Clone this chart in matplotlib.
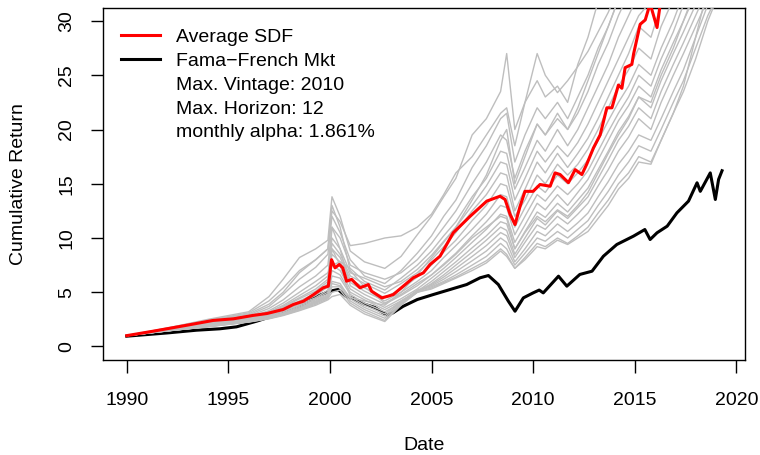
import matplotlib
matplotlib.use("Agg")
import matplotlib.pyplot as plt
from matplotlib.lines import Line2D

plt.rcParams['font.family'] = ['Liberation Sans', 'DejaVu Sans']

# ---------------- data ----------------
red_t = [1990.0, 1991.3, 1992.9, 1994.25, 1995.25, 1996.2, 1996.9, 1997.7, 1998.2, 1998.7,
         1999.2, 1999.67, 1999.92, 2000.08, 2000.25, 2000.46, 2000.63, 2000.82, 2001.07, 2001.48,
         2001.89, 2002.05, 2002.55, 2002.87, 2003.12, 2003.61, 2004.1, 2004.6, 2004.93, 2005.42,
         2006.07, 2006.9, 2007.72, 2008.37, 2008.62, 2008.87, 2009.11, 2009.36, 2009.6, 2010.0,
         2010.34, 2010.84, 2011.08, 2011.33, 2011.74, 2012.07, 2012.4, 2012.64, 2012.97, 2013.3,
         2013.63, 2013.88, 2014.2, 2014.37, 2014.53, 2014.86, 2014.95, 2015.27, 2015.52, 2015.76,
         2016.1, 2016.26, 2017.0, 2018.0, 2019.25]
red_v = [1.0, 1.41, 1.94, 2.4, 2.55, 2.86, 3.04, 3.41, 3.87, 4.18,
         4.79, 5.41, 5.56, 8.0, 7.25, 7.56, 7.25, 6.02, 6.18, 5.41,
         5.71, 5.1, 4.48, 4.64, 4.79, 5.56, 6.33, 6.79, 7.56, 8.32,
         10.48, 12.0, 13.4, 13.85, 13.55, 12.17, 11.24, 12.93, 14.3, 14.3,
         14.93, 14.77, 16.0, 15.85, 15.1, 16.3, 15.85, 16.8, 18.3, 19.5,
         22.0, 22.0, 24.1, 23.8, 25.7, 26.0, 27.0, 29.7, 30.1, 31.6,
         29.4, 31.6, 38.0, 45.0, 52.0]

mkt_t = [1990.0, 1991.0, 1992.0, 1993.43, 1994.58, 1995.4, 1996.39, 1997.0, 1997.7, 1998.5,
         1999.18, 2000.0, 2000.4, 2000.8, 2001.2, 2001.7, 2002.2, 2002.8, 2003.1, 2003.6,
         2004.3, 2005.09, 2005.91, 2006.73, 2007.39, 2007.8, 2008.29, 2008.78, 2009.11, 2009.52,
         2010.0, 2010.3, 2010.5, 2011.25, 2011.66, 2012.3, 2012.9, 2013.46, 2014.12, 2014.94,
         2015.5, 2015.76, 2016.1, 2016.6, 2017.08, 2017.65, 2018.07, 2018.23, 2018.72, 2018.97,
         2019.13, 2019.3]
mkt_v = [0.95, 1.1, 1.25, 1.5, 1.63, 1.81, 2.33, 2.7, 3.1, 3.6,
         4.48, 5.1, 5.25, 4.6, 4.4, 3.9, 3.6, 2.9, 3.1, 3.7,
         4.33, 4.79, 5.25, 5.71, 6.33, 6.54, 5.71, 4.18, 3.25, 4.48,
         4.94, 5.2, 4.94, 6.48, 5.56, 6.64, 6.94, 8.32, 9.4, 10.17,
         10.78, 9.86, 10.48, 11.09, 12.32, 13.4, 15.09, 14.3, 16.0, 13.55,
         15.4, 16.2]

sdf_t = [1990, 1992, 1994, 1996, 1997, 1997.7, 1998.5, 1999.3, 1999.9, 2000.1,
         2000.5, 2001, 2001.7, 2002.7, 2003.5, 2004.3, 2005.0, 2005.6, 2006.2, 2007.0,
         2007.7, 2008.4, 2008.7, 2009.1, 2009.6, 2010.2, 2010.6, 2011.2, 2011.7, 2012.2,
         2012.7, 2013.2, 2013.7, 2014.2, 2014.7, 2015.2, 2015.8, 2016.3, 2016.9, 2017.4,
         2018.0, 2018.6, 2019.25]
sdf_01 = [1, 1.70, 2.50, 3.20, 4.6, 6.2, 8.2, 9.0, 9.8, 13.8, 12.0, 8.8, 7.8, 7.2, 8.3, 10.3, 12.0, 13.8, 15.5, 19.5,
          21.0, 23.5, 27.0, 20.0, 22.5, 24.5, 23.0, 24.0, 22.5, 26.0, 28.5, 31.8, 34, 36, 38, 40, 42, 44, 46, 48, 50, 52, 55]
sdf_02 = [1, 1.65, 2.40, 3.10, 4.2, 5.4, 7.0, 8.0, 9.0, 12.5, 11.5, 9.3, 9.5, 10.0, 10.2, 11.0, 12.2, 14.0, 16.0, 17.5,
          19.5, 21.5, 22.0, 18.5, 22.5, 27.0, 25.0, 23.4, 24.5, 25.8, 27.2, 29.0, 30.8, 33, 35, 37, 39, 41, 43, 45, 47, 49, 52]
sdf_03 = [1, 1.60, 2.30, 2.90, 3.7, 4.8, 6.2, 7.3, 8.5, 12.0, 10.5, 8.0, 6.5, 5.8, 7.0, 8.6, 10.2, 12.0, 13.5, 16.5,
          18.5, 21.0, 21.5, 17.0, 19.5, 22.0, 21.0, 22.5, 21.0, 23.0, 25.0, 27.5, 29.5, 32.0, 34, 36, 38, 40, 42, 44, 46, 48, 50]
sdf_04 = [1, 1.62, 2.20, 2.80, 3.5, 4.3, 5.5, 6.5, 7.5, 11.0, 10.0, 7.5, 6.8, 6.2, 6.8, 8.0, 9.5, 11.0, 12.5, 15.0,
          17.0, 19.5, 19.0, 15.5, 18.0, 20.5, 19.5, 21.5, 20.0, 21.5, 23.5, 26.0, 28.0, 30.5, 32.5, 34.5, 36, 38, 40, 42, 44, 46, 48]
sdf_05 = [1, 1.58, 2.15, 2.70, 3.3, 4.0, 5.0, 6.0, 6.8, 7.5, 7.8, 7.2, 6.0, 5.2, 6.3, 7.5, 8.8, 10.2, 11.5, 13.8,
          15.5, 18.0, 17.8, 14.5, 16.5, 19.0, 18.0, 20.0, 18.5, 20.0, 22.0, 24.0, 26.0, 28.5, 30.5, 32.5, 34, 36, 38, 40, 42, 44, 46]
sdf_06 = [1, 1.55, 2.10, 2.65, 3.2, 3.8, 4.7, 5.6, 6.5, 10.0, 9.0, 6.8, 6.3, 5.5, 6.0, 7.1, 8.4, 9.7, 11.0, 13.0,
          14.8, 17.0, 16.8, 13.5, 15.5, 18.0, 17.0, 18.5, 17.5, 18.8, 20.5, 22.5, 24.5, 26.5, 28.5, 30.5, 31.8, 34, 36, 38, 40, 42, 44]
sdf_07 = [1, 1.55, 2.05, 2.60, 3.1, 3.7, 4.5, 5.3, 6.2, 9.5, 8.5, 6.5, 5.8, 4.9, 5.8, 6.8, 8.0, 9.2, 10.5, 12.5,
          14.0, 16.0, 15.8, 12.5, 14.5, 17.0, 16.0, 17.8, 16.5, 17.8, 19.2, 21.0, 23.0, 25.0, 27.0, 29.5, 28.5, 31.5, 34, 36, 38, 40, 42]
sdf_08 = [1, 1.52, 2.00, 2.55, 3.0, 3.6, 4.4, 5.1, 6.0, 9.0, 8.2, 6.2, 5.4, 4.5, 5.3, 6.4, 7.5, 8.7, 9.8, 11.6,
          13.0, 15.0, 14.8, 12.0, 13.5, 15.8, 15.0, 16.8, 15.8, 16.8, 18.2, 20.0, 22.0, 24.0, 25.5, 27.5, 26.5, 29.5, 32.0, 34, 36, 38, 40]
sdf_09 = [1, 1.50, 1.98, 2.50, 2.95, 3.5, 4.2, 4.9, 5.8, 8.5, 7.8, 5.9, 5.1, 4.2, 5.0, 6.0, 7.0, 8.2, 9.3, 10.8,
          12.2, 14.0, 13.8, 11.0, 12.8, 14.8, 14.2, 15.8, 15.0, 16.0, 17.2, 19.0, 20.8, 22.5, 24.0, 26.0, 25.0, 27.5, 30.0, 32.5, 35, 37, 39]
sdf_10 = [1, 1.50, 1.95, 2.45, 2.9, 3.4, 4.0, 4.7, 5.5, 11.0, 9.0, 5.6, 4.8, 3.9, 4.7, 5.6, 6.6, 7.6, 8.6, 10.2,
          11.5, 13.0, 12.8, 10.3, 12.0, 14.0, 13.4, 14.8, 14.0, 15.0, 16.2, 18.0, 19.8, 21.5, 23.0, 25.0, 24.0, 26.5, 29.0, 31.5, 34, 36, 38]
sdf_11 = [1, 1.48, 1.92, 2.40, 2.85, 3.3, 3.9, 4.5, 5.2, 7.5, 7.0, 5.3, 4.5, 3.6, 4.4, 5.3, 6.3, 7.2, 8.2, 9.6,
          10.8, 12.2, 12.0, 9.6, 11.2, 13.2, 12.6, 14.0, 13.0, 14.2, 15.4, 17.2, 19.0, 20.8, 22.2, 24.0, 23.0, 25.5, 28.0, 30.0, 32.5, 35, 37]
sdf_12 = [1, 1.47, 1.90, 2.38, 2.8, 3.2, 3.8, 4.4, 5.0, 7.0, 6.6, 5.0, 4.3, 3.4, 4.2, 5.1, 6.0, 6.9, 7.8, 9.1,
          10.2, 11.5, 11.3, 9.0, 10.6, 12.4, 11.9, 13.2, 12.4, 13.5, 14.6, 16.3, 18.0, 19.8, 21.2, 23.0, 22.0, 24.5, 27.0, 29.0, 31.5, 34, 36]
sdf_13 = [1, 1.46, 1.88, 2.35, 2.75, 3.1, 3.7, 4.3, 4.8, 6.5, 6.3, 4.8, 4.0, 3.2, 4.0, 5.0, 5.8, 6.6, 7.5, 8.7,
          9.8, 11.0, 10.7, 8.5, 10.0, 11.8, 11.2, 12.5, 11.8, 12.8, 13.8, 15.5, 17.2, 19.0, 20.3, 22.0, 21.0, 23.5, 26.0, 28.0, 30.5, 33, 35]
sdf_14 = [1, 1.45, 1.86, 2.32, 2.7, 3.05, 3.6, 4.2, 4.7, 9.0, 7.5, 4.6, 3.8, 3.0, 4.2, 5.1, 5.7, 6.4, 7.2, 8.3,
          9.3, 10.5, 10.2, 8.2, 9.6, 11.2, 10.8, 12.0, 11.3, 12.2, 13.2, 14.8, 16.3, 18.0, 19.3, 21.0, 20.0, 22.5, 25.0, 27.0, 29.5, 32, 34]
sdf_15 = [1, 1.45, 1.85, 2.30, 2.65, 3.0, 3.5, 4.1, 4.6, 6.0, 5.8, 4.4, 3.6, 2.8, 4.1, 5.2, 5.6, 6.2, 6.9, 7.9,
          8.8, 10.0, 9.6, 7.8, 9.0, 10.6, 10.2, 11.3, 10.6, 11.4, 12.3, 13.8, 15.2, 16.8, 18.0, 19.5, 19.0, 21.0, 23.5, 25.5, 28.5, 31.5, 34]
sdf_16 = [1, 1.44, 1.84, 2.28, 2.6, 2.95, 3.4, 4.0, 4.5, 5.5, 5.5, 4.2, 3.4, 2.6, 4.0, 5.1, 5.5, 6.0, 6.6, 7.5,
          8.3, 9.5, 9.0, 7.5, 8.6, 10.0, 9.7, 10.6, 10.0, 10.8, 11.6, 13.0, 14.3, 15.8, 17.0, 18.5, 18.0, 20.0, 22.5, 24.5, 27.5, 30.5, 33]
sdf_17 = [1, 1.44, 1.83, 2.26, 2.58, 2.9, 3.35, 3.9, 4.4, 5.0, 5.2, 4.0, 3.2, 2.4, 3.9, 5.0, 5.4, 5.9, 6.4, 7.2,
          7.9, 9.0, 8.5, 7.2, 8.2, 9.5, 9.2, 10.0, 9.5, 10.2, 11.0, 12.3, 13.5, 15.0, 16.0, 17.5, 17.0, 19.0, 21.5, 23.5, 26.5, 30.0, 33]
sdf_18 = [1, 1.43, 1.82, 2.25, 2.55, 2.85, 3.3, 3.8, 4.3, 4.6, 4.8, 3.8, 3.0, 2.3, 3.8, 5.0, 5.3, 5.8, 6.3, 7.0,
          7.7, 8.8, 8.3, 7.2, 8.0, 9.2, 9.0, 9.8, 9.4, 10.0, 10.6, 11.8, 13.0, 14.5, 15.5, 17.0, 16.8, 19.0, 21.5, 24.0, 28.5, 33, 37]
sdf_19 = [1, 1.70, 2.40, 3.00, 3.9, 5.0, 6.8, 8.0, 9.0, 13.0, 11.0, 7.0, 5.5, 4.0, 4.8, 5.8, 6.6, 7.5, 8.5, 10.0,
          11.0, 12.0, 11.8, 9.0, 10.5, 12.0, 11.5, 12.6, 12.0, 13.0, 14.2, 16.0, 17.8, 19.5, 21.0, 23.0, 22.5, 25.0, 27.5, 30.0, 33.0, 36, 40]
sdf_20 = [1, 1.45, 1.85, 2.30, 2.6, 2.95, 3.5, 4.1, 4.6, 5.8, 5.6, 4.5, 4.2, 3.8, 5.0, 6.6, 8.2, 9.6, 11.0, 13.5,
          15.8, 19.0, 20.0, 15.0, 17.5, 20.5, 19.5, 21.0, 20.0, 22.0, 24.5, 27.0, 29.5, 32.0, 34, 36, 38, 40, 42, 44, 46, 48, 50]
sdf_lines = [sdf_01, sdf_02, sdf_03, sdf_04, sdf_05, sdf_06, sdf_07, sdf_08, sdf_09, sdf_10,
             sdf_11, sdf_12, sdf_13, sdf_14, sdf_15, sdf_16, sdf_17, sdf_18, sdf_19, sdf_20]

x_ticks = [1990, 1995, 2000, 2005, 2010, 2015, 2020]
y_ticks = [0, 5, 10, 15, 20, 25, 30]
legend_labels = ["Average SDF", "Fama\u2212French Mkt", "Max. Vintage: 2010",
                 "Max. Horizon: 12", "monthly alpha: 1.861%"]

# ---------------- figure ----------------
W, H = 760, 455
fig = plt.figure(figsize=(W / 100, H / 100), dpi=100)
ax = fig.add_axes([103 / W, 1 - 359.5 / H, (745 - 103) / W, (359.5 - 8) / H])

ax.plot(mkt_t, mkt_v, color='black', lw=2.2, zorder=2, solid_joinstyle='round')
for s in sdf_lines:
    ax.plot(sdf_t, s, color='#BEBEBE', lw=1.0, zorder=3)
ax.plot(red_t, red_v, color='#FF0000', lw=2.2, zorder=4, solid_joinstyle='round')

ax.set_xlim(1988.83, 2020.43)
ax.set_ylim(-1.2, 31.2)
ax.set_xticks(x_ticks)
ax.set_yticks(y_ticks)
ax.set_xticklabels([str(v) for v in x_ticks])
ax.set_yticklabels([str(v) for v in y_ticks], rotation=90, va='center')
ax.tick_params(axis='both', direction='out', length=9, width=1.0, labelsize=14, colors='black')
ax.tick_params(axis='x', pad=14.5)
ax.tick_params(axis='y', pad=11)
for sp in ax.spines.values():
    sp.set_linewidth(1.0)

fig.text(424 / W, 1 - 445 / H, "Date", ha='center', va='center', fontsize=14)
fig.text(18.5 / W, 1 - 184 / H, "Cumulative Return", ha='center', va='center',
         rotation=90, fontsize=14)

handles = [Line2D([], [], color='#FF0000', lw=2.2),
           Line2D([], [], color='black', lw=2.2),
           Line2D([], [], color='none'),
           Line2D([], [], color='none'),
           Line2D([], [], color='none')]
ax.legend(handles, legend_labels, loc='upper left', frameon=False, fontsize=14,
          bbox_to_anchor=((121 - 103) / 642, 1 - (28.5 - 8) / 351.5),
          borderpad=0, borderaxespad=0, handlelength=2.0, handletextpad=0.85,
          labelspacing=0.32)

fig.savefig("out.png", dpi=100)
